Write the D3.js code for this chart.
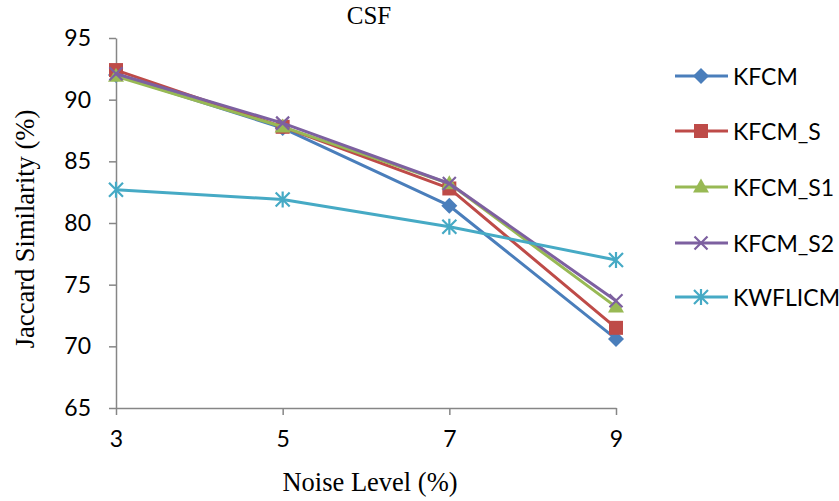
<!DOCTYPE html>
<html>
<head>
<meta charset="utf-8">
<script src="https://cdn.jsdelivr.net/npm/d3@7"></script>
<style>
  body { margin: 0; background: #fff; }
  svg { display: block; }
</style>
</head>
<body>
<svg id="chart" width="839" height="501"></svg>
<script>
const categories = ["3", "5", "7", "9"];
const yTicks = [65, 70, 75, 80, 85, 90, 95];
const seriesNames = ["KFCM", "KFCM_S", "KFCM_S1", "KFCM_S2", "KWFLICM"];
const kfcm    = [92.0, 87.7, 81.4, 70.6];
const kfcmS   = [92.4, 87.8, 82.8, 71.5];
const kfcmS1  = [91.9, 87.8, 83.2, 73.2];
const kfcmS2  = [92.1, 88.1, 83.2, 73.7];
const kwflicm = [82.7, 81.9, 79.7, 77.0];
const seriesValues = [kfcm, kfcmS, kfcmS1, kfcmS2, kwflicm];
const colors = ["#4A7EBB", "#BE4B48", "#98B954", "#7D60A0", "#46AAC5"];
const markers = ["diamond", "square", "triangle", "x", "star"];

const svg = d3.select("#chart");
const x = d3.scalePoint().domain(categories).range([116, 616]);
const y = d3.scaleLinear().domain([65, 95]).range([408, 38]);
const axisColor = "#868686";
const tickFont = "Lato, 'Open Sans', sans-serif";
const serif = "'Liberation Serif', 'Times New Roman', serif";

// Y axis
const yAxis = svg.append("g").attr("transform", "translate(116,0)")
  .call(d3.axisLeft(y).tickValues(yTicks).tickSize(7).tickPadding(18).tickSizeOuter(0));
yAxis.select(".domain").attr("stroke", axisColor).attr("stroke-width", 1.5);
yAxis.selectAll(".tick line").attr("stroke", axisColor).attr("stroke-width", 1.5);
yAxis.selectAll(".tick text").attr("fill", "#000").style("font-family", tickFont).style("font-size", "23px");

// X axis
const xAxis = svg.append("g").attr("transform", "translate(0,408)")
  .call(d3.axisBottom(x).tickSize(7).tickPadding(16).tickSizeOuter(0));
xAxis.select(".domain").attr("stroke", axisColor).attr("stroke-width", 1.5);
xAxis.selectAll(".tick line").attr("stroke", axisColor).attr("stroke-width", 1.5);
xAxis.selectAll(".tick text").attr("fill", "#000").style("font-family", tickFont).style("font-size", "23px");

// Titles
svg.append("text").attr("x", 369).attr("y", 24).attr("text-anchor", "middle")
  .style("font-family", serif).style("font-size", "25px").text("CSF");
svg.append("text").attr("x", 370).attr("y", 491).attr("text-anchor", "middle")
  .style("font-family", serif).style("font-size", "26.5px").text("Noise Level (%)");
svg.append("text").attr("transform", "translate(34,229) rotate(-90)").attr("text-anchor", "middle")
  .style("font-family", serif).style("font-size", "26.5px").text("Jaccard Similarity (%)");

function drawMarker(g, type, cx, cy, color) {
  if (type === "diamond") {
    const r = 8;
    g.append("path").attr("d", `M${cx},${cy - r}L${cx + r},${cy}L${cx},${cy + r}L${cx - r},${cy}Z`).attr("fill", color);
  } else if (type === "square") {
    const s = 14;
    g.append("rect").attr("x", cx - s / 2).attr("y", cy - s / 2).attr("width", s).attr("height", s).attr("fill", color);
  } else if (type === "triangle") {
    const w = 16, h = 14;
    g.append("path").attr("d", `M${cx},${cy - h * 0.6}L${cx + w / 2},${cy + h * 0.4}L${cx - w / 2},${cy + h * 0.4}Z`).attr("fill", color);
  } else if (type === "x") {
    const r = 6.5;
    g.append("path").attr("d", `M${cx - r},${cy - r}L${cx + r},${cy + r}M${cx - r},${cy + r}L${cx + r},${cy - r}`)
      .attr("stroke", color).attr("stroke-width", 2.2).attr("fill", "none");
  } else if (type === "star") {
    const r = 7;
    g.append("path").attr("d", `M${cx - r},${cy - r}L${cx + r},${cy + r}M${cx - r},${cy + r}L${cx + r},${cy - r}M${cx},${cy - r - 1}L${cx},${cy + r + 1}`)
      .attr("stroke", color).attr("stroke-width", 2.2).attr("fill", "none");
  }
}

const line = d3.line().x((d, i) => x(categories[i])).y(d => y(d));
seriesValues.forEach((vals, si) => {
  const g = svg.append("g");
  g.append("path").datum(vals).attr("d", line).attr("fill", "none")
    .attr("stroke", colors[si]).attr("stroke-width", 3).attr("stroke-linejoin", "round");
  vals.forEach((v, i) => drawMarker(g, markers[si], x(categories[i]), y(v), colors[si]));
});

// Legend
const legendY = [76, 131, 187, 243, 297];
seriesNames.forEach((name, si) => {
  const g = svg.append("g");
  const ly = legendY[si];
  g.append("line").attr("x1", 675).attr("x2", 728).attr("y1", ly).attr("y2", ly)
    .attr("stroke", colors[si]).attr("stroke-width", 3);
  drawMarker(g, markers[si], 701, ly, colors[si]);
  g.append("text").attr("x", 733).attr("y", ly + 8.5)
    .style("font-family", tickFont).style("font-size", "23px").text(name);
});
</script>
</body>
</html>
